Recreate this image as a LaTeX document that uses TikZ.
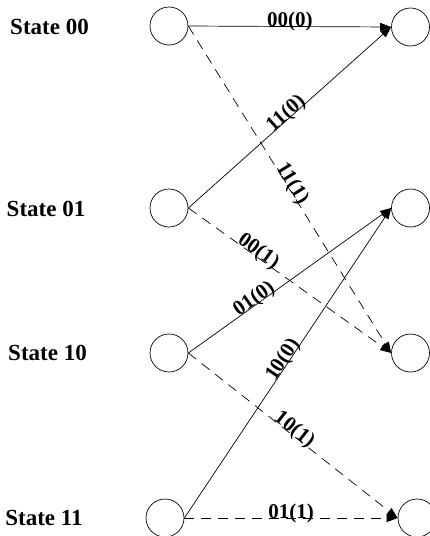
\documentclass[tikz,border=0pt]{standalone}
\usepackage{fontspec}
\setmainfont{Liberation Serif}
\usetikzlibrary{arrows.meta}
\begin{document}
\begin{tikzpicture}[x=1pt,y=-1pt,
  state/.style={circle,draw,line width=0.7pt,minimum size=38pt,inner sep=0pt},
  statelabel/.style={font=\fontsize{23}{23}\selectfont\bfseries,inner sep=0pt},
  edge/.style={line width=0.7pt,-{Triangle[length=11pt,width=8pt]}},
  dashedge/.style={edge,dash pattern=on 10pt off 7pt},
  lbl/.style={font=\fontsize{21}{21}\selectfont\bfseries,sloped,anchor=base,inner sep=0pt}]
\useasboundingbox (0,0) rectangle (430,536);

% state names
\node[statelabel] (n00) at (49.5,27) {State 00};
\node[statelabel] (n01) at (46,209) {State 01};
\node[statelabel] (n10) at (47.5,353) {State 10};
\node[statelabel] (n11) at (44,518) {State 11};

% left column (time t)
\node[state] (a00) at (169,26) {};
\node[state] (a01) at (169,208) {};
\node[state] (a10) at (169,353) {};
\node[state] (a11) at (165,518) {};

% right column (time t+1)
\node[state] (b00) at (410.5,27) {};
\node[state] (b01) at (410.5,208) {};
\node[state] (b10) at (410.5,353) {};
\node[state] (b11) at (417,518) {};

% input 0: solid, input 1: dashed
\draw[edge] (a00.east) -- node[lbl,pos=0.5] {00(0)} (b00.west);
\draw[dashedge] (a00.east) -- node[lbl,pos=0.49] {11(1)} (b10.west);
\draw[edge] (a01.east) -- node[lbl,pos=0.5] {11(0)} (b00.west);
\draw[dashedge] (a01.east) -- node[lbl,pos=0.33] {00(1)} (b10.west);
\draw[edge] (a10.east) -- node[lbl,pos=0.34] {01(0)} (b01.west);
\draw[dashedge] (a10.east) -- node[lbl,pos=0.49] {10(1)} (b11.west);
\draw[edge] (a11.east) -- node[lbl,pos=0.5] {10(0)} (b01.west);
\draw[dashedge] (a11.east) -- node[lbl,pos=0.5] {01(1)} (b11.west);
\end{tikzpicture}
\end{document}
